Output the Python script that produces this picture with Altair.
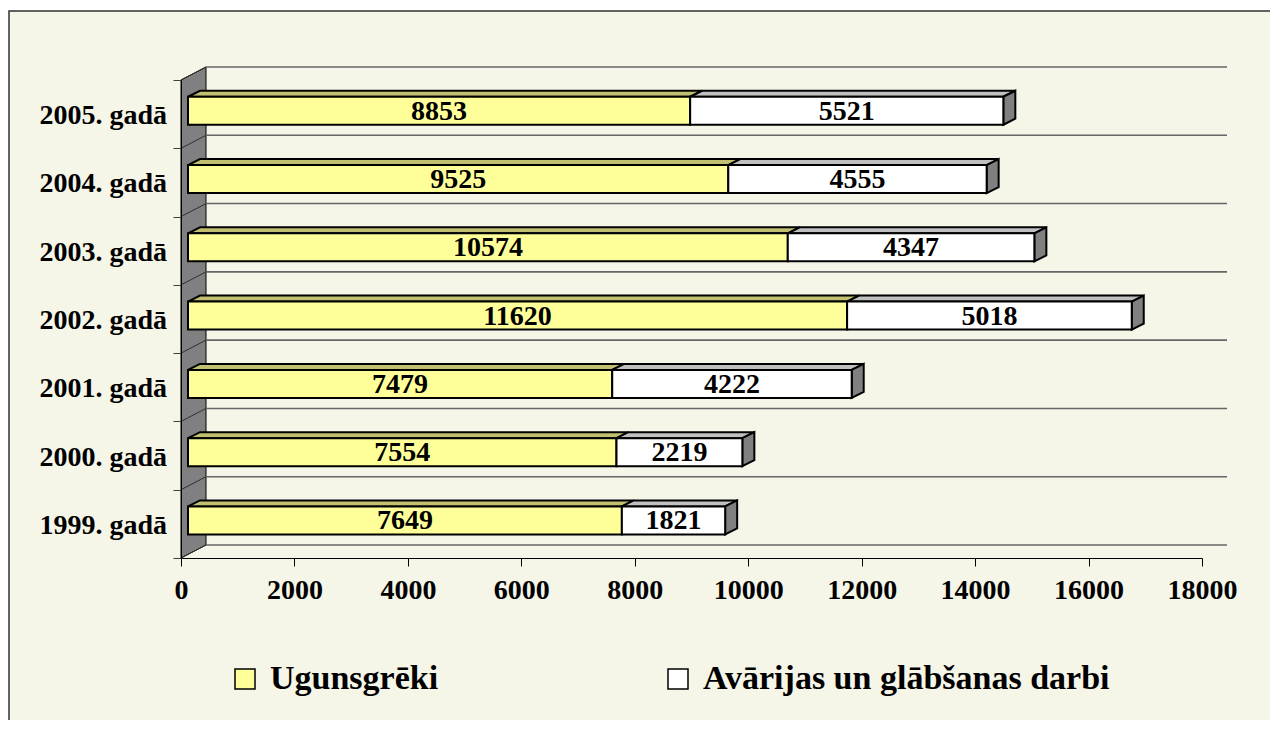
import altair as alt
import pandas as pd

years = ["1999. gadā", "2000. gadā", "2001. gadā", "2002. gadā",
         "2003. gadā", "2004. gadā", "2005. gadā"]
fires = [7649, 7554, 7479, 11620, 10574, 9525, 8853]
rescue = [1821, 2219, 4222, 5018, 4347, 4555, 5521]
series_names = ["Ugunsgrēki", "Avārijas un glābšanas darbi"]
x_ticks = [0, 2000, 4000, 6000, 8000, 10000, 12000, 14000, 16000, 18000]

W, H = 1021, 478
XMAX, NCAT = 18000, 7
PXX = XMAX / W      # value units per pixel
PXY = NCAT / H      # category units per pixel

FONT = "Liberation Serif"
BG = "#F5F5E8"
front_fill = {series_names[0]: "#FFFF99", series_names[1]: "#FFFFFF"}
top_fill = {series_names[0]: "#C0C070", series_names[1]: "#C0C0C0"}

# ---- derived tables ----
rects, polys, labels = [], [], []
pid = 0
BAR_DX, BAR_DY = 7 * PXX, 3.4 * PXY
DEP_X, DEP_Y = 12 * PXX, 6 * PXY
HALF = 14 * PXY
for i, (yr, f, r) in enumerate(zip(years, fires, rescue)):
    c = i + 0.5 + BAR_DY
    bot, top = c - HALF, c + HALF
    labels.append(dict(cat=yr, yc=i + 0.5))
    for s, a, b in [(series_names[0], 0, f), (series_names[1], f, f + r)]:
        a2, b2 = a + BAR_DX, b + BAR_DX
        rects.append(dict(series=s, x=a2, x2=b2, y=bot, y2=top,
                          val=b - a, xm=(a2 + b2) / 2, yc=c))
        # top face parallelogram
        for px, py, py2 in [(a2, top, top), (a2 + DEP_X, top, top + DEP_Y),
                            (b2, top, top + DEP_Y), (b2 + DEP_X, top + DEP_Y, top + DEP_Y)]:
            polys.append(dict(pid=pid, px=px, py=py, py2=py2, fill=top_fill[s]))
        pid += 1
    # right end face
    end = f + r + BAR_DX
    for px, py, py2 in [(end, bot, top), (end + DEP_X, bot + DEP_Y, top + DEP_Y)]:
        polys.append(dict(pid=pid, px=px, py=py, py2=py2, fill="#808080"))
    pid += 1

WALL_X, WALL_Y = 25 * PXX, 13 * PXY
wall = pd.DataFrame([dict(px=0, py=0, py2=NCAT), dict(px=WALL_X, py=WALL_Y, py2=NCAT + WALL_Y)])
grid_back = pd.DataFrame([dict(x=WALL_X, x2=XMAX + WALL_X, y=k + WALL_Y, y2=k + WALL_Y) for k in range(NCAT + 1)])
grid_wall = pd.DataFrame([dict(x=0, x2=WALL_X, y=k, y2=k + WALL_Y) for k in range(NCAT + 1)])

rects = pd.DataFrame(rects)
polys = pd.DataFrame(polys)
labels = pd.DataFrame(labels)

XS = alt.Scale(domain=[0, XMAX], nice=False, zero=False)
YS = alt.Scale(domain=[0, NCAT], nice=False, zero=False)
XAX = alt.Axis(values=x_ticks, format="d", tickSize=8, tickColor="#000000", domainColor="#000000",
               labelFont=FONT, labelFontSize=28, labelFontWeight="bold", labelColor="#000000",
               labelPadding=10, grid=False, title=None, labelFlush=False, labelOverlap=False,
               zindex=2)
YAX = alt.Axis(values=list(range(NCAT + 1)), labels=False, tickSize=8, tickColor="#404040",
               domainColor="#000000", grid=False, title=None, zindex=2)


def X(f):
    return alt.X(f, type="quantitative", scale=XS, axis=XAX)


def Y(f):
    return alt.Y(f, type="quantitative", scale=YS, axis=YAX, stack=None)


bg = alt.Chart(pd.DataFrame({"a": [0]})).mark_rect(
    fill=BG, stroke="#303030", strokeWidth=1.5, clip=False
).encode(x=alt.value(-172), x2=alt.value(1100), y=alt.value(-69), y2=alt.value(720))

wall_l = alt.Chart(wall).mark_area(fill="#808080", stroke="#000000", strokeWidth=1, clip=False).encode(
    x=X("px"), y=Y("py"), y2="py2")

grid_b = alt.Chart(grid_back).mark_rule(color="#666666", strokeWidth=1.6, clip=False).encode(
    x=X("x"), x2="x2", y=Y("y"), y2="y2")
grid_w = alt.Chart(grid_wall).mark_rule(color="#303030", strokeWidth=1, clip=False).encode(
    x=X("x"), x2="x2", y=Y("y"), y2="y2")

faces3d = alt.Chart(polys).mark_area(stroke="#000000", strokeWidth=2, strokeJoin="miter", clip=False).encode(
    x=X("px"), y=Y("py"), y2="py2", detail="pid:N",
    fill=alt.Fill("fill:N", scale=None))

front = alt.Chart(rects).mark_rect(stroke="#000000", strokeWidth=2, clip=False).encode(
    x=X("x"), x2="x2", y=Y("y"), y2="y2",
    fill=alt.Fill("series:N",
                  scale=alt.Scale(domain=series_names, range=[front_fill[s] for s in series_names]),
                  legend=alt.Legend(orient="none", legendX=47, legendY=582, direction="horizontal",
                                    title=None, symbolType="square", symbolSize=400,
                                    symbolStrokeColor="#000000", symbolStrokeWidth=1.5,
                                    symbolOpacity=1, labelFont=FONT, labelFontSize=34,
                                    labelFontWeight="bold", labelColor="#000000", labelOffset=8,
                                    columnPadding=222, labelLimit=800, padding=0)))

vals = alt.Chart(rects).mark_text(font=FONT, fontSize=28, fontWeight="bold", color="#000000",
                                   baseline="middle", align="center", dy=1, clip=False).encode(
    x=X("xm"), y=Y("yc"), text="val:Q")

cats = alt.Chart(labels).mark_text(font=FONT, fontSize=28, fontWeight="bold", color="#000000",
                                   baseline="middle", align="right", dx=-14, dy=2, clip=False).encode(
    x=alt.value(0), y=Y("yc"), text="cat:N")

chart = alt.layer(bg, wall_l, grid_b, grid_w, faces3d, front, vals, cats).properties(
    width=W, height=H,
    autosize=alt.AutoSizeParams(type="none"),
    padding={"left": 173, "top": 72, "right": 68, "bottom": 162},
    background="#FFFFFF",
).configure_view(stroke=None)

chart.save("out.html", embed_options={"renderer": "svg", "actions": False})
